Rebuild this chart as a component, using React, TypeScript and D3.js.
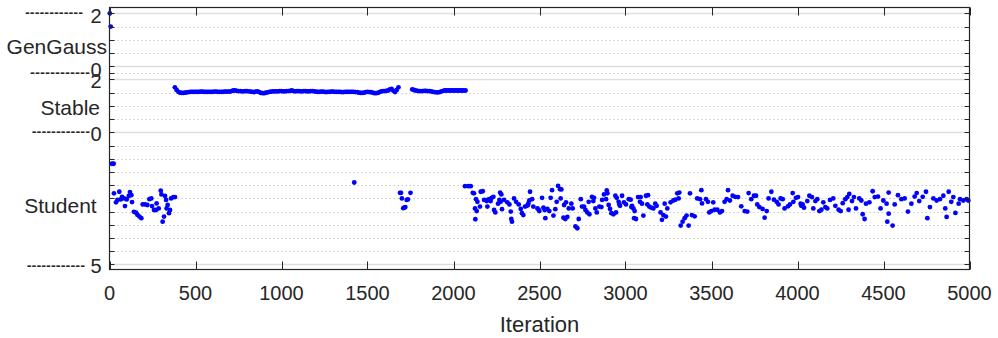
import React from "react";
import * as d3 from "d3";

// ---------- data ----------
const X_TICKS = [0, 500, 1000, 1500, 2000, 2500, 3000, 3500, 4000, 4500, 5000];

// unified y-axis tick positions (GenGauss 2..0, separator, Stable 2..0, Student 0.5..5)
const Y_TICKS = [0, 0.5, 1, 1.5, 2, 2.25, 2.5, 3, 3.5, 4, 4.5, 5, 5.5, 6, 6.5, 7, 7.5, 8, 8.5, 9, 9.5];
const Y_MAJOR = [0, 2, 2.5, 4.5, 9.5];

const GG_ITER = [2, 7];
const GG_VAL = [2.0, 1.5];

// [iteration, alpha] samples while the chain sits in the Stable model
const STABLE_SAMPLES: [number, number][] = [
  [380, 1.70], [390, 1.60], [400, 1.53], [410, 1.50], [420, 1.49], [430, 1.49], [440, 1.50], [450, 1.51],
  [460, 1.52], [470, 1.53], [480, 1.53], [490, 1.53], [500, 1.53], [510, 1.53], [520, 1.53], [530, 1.54],
  [540, 1.54], [550, 1.53], [560, 1.53], [570, 1.53], [580, 1.53], [590, 1.53], [600, 1.53], [610, 1.54],
  [620, 1.54], [630, 1.53], [640, 1.53], [650, 1.53], [660, 1.53], [670, 1.54], [680, 1.54], [690, 1.54],
  [700, 1.54], [710, 1.56], [720, 1.58], [730, 1.58], [740, 1.57], [750, 1.56], [760, 1.56], [770, 1.55],
  [780, 1.55], [790, 1.56], [800, 1.56], [810, 1.55], [820, 1.54], [830, 1.53], [840, 1.52], [850, 1.54],
  [860, 1.55], [870, 1.52], [880, 1.49], [890, 1.48], [900, 1.48], [910, 1.50], [920, 1.51], [930, 1.53],
  [940, 1.54], [950, 1.55], [960, 1.55], [970, 1.55], [980, 1.55], [990, 1.56], [1000, 1.56], [1010, 1.55],
  [1020, 1.55], [1030, 1.56], [1040, 1.56], [1050, 1.57], [1060, 1.58], [1070, 1.56], [1080, 1.55], [1090, 1.56],
  [1100, 1.56], [1110, 1.55], [1120, 1.55], [1130, 1.56], [1140, 1.56], [1150, 1.55], [1160, 1.55], [1170, 1.56],
  [1180, 1.56], [1190, 1.55], [1200, 1.54], [1210, 1.53], [1220, 1.53], [1230, 1.54], [1240, 1.54], [1250, 1.53],
  [1260, 1.52], [1270, 1.53], [1280, 1.53], [1290, 1.54], [1300, 1.54], [1310, 1.53], [1320, 1.53], [1330, 1.53],
  [1340, 1.53], [1350, 1.52], [1360, 1.52], [1370, 1.53], [1380, 1.53], [1390, 1.53], [1400, 1.53], [1410, 1.53],
  [1420, 1.53], [1430, 1.52], [1440, 1.52], [1450, 1.50], [1460, 1.49], [1470, 1.49], [1480, 1.50], [1490, 1.52],
  [1500, 1.53], [1510, 1.52], [1520, 1.52], [1530, 1.50], [1540, 1.48], [1550, 1.48], [1560, 1.49], [1570, 1.52],
  [1580, 1.55], [1590, 1.56], [1600, 1.56], [1610, 1.57], [1620, 1.58], [1630, 1.62], [1640, 1.64], [1650, 1.57],
  [1660, 1.52], [1670, 1.60], [1680, 1.70],
  [1760, 1.62], [1770, 1.60], [1780, 1.58], [1790, 1.57], [1800, 1.56], [1810, 1.56], [1820, 1.56], [1830, 1.57],
  [1840, 1.57], [1850, 1.56], [1860, 1.56], [1870, 1.55], [1880, 1.53], [1890, 1.52], [1900, 1.51], [1910, 1.51],
  [1920, 1.52], [1930, 1.55], [1940, 1.57], [1950, 1.58], [1960, 1.58], [1970, 1.58], [1980, 1.58], [1990, 1.58],
  [2000, 1.58], [2010, 1.58], [2020, 1.58], [2030, 1.58], [2040, 1.58], [2050, 1.58], [2060, 1.58], [2070, 1.58],
];

const STUDENT_ITER = [
  14, 24, 26, 38, 46, 57, 65, 73, 84, 90, 100, 112, 119, 127, 131, 142, 154, 162, 174, 185,
  193, 206, 220, 232, 243, 247, 259, 270, 274, 286, 298, 302, 309, 317, 323, 329, 332, 338, 346, 352,
  358, 371, 381,
  1423,
  1689, 1695, 1700, 1708, 1714, 1720, 1728, 1735, 1750,
  2067, 2086, 2100, 2112, 2119, 2158, 2170, 2131, 2139, 2125, 2135, 2127, 2154, 2178, 2193, 2209, 2222, 2232, 2197, 2236,
  2243, 2271, 2278, 2267, 2274, 2259, 2294, 2282, 2313, 2325, 2333, 2336, 2340, 2352, 2364, 2379, 2391, 2398, 2406, 2416,
  2426, 2435, 2441, 2445, 2457, 2464, 2488, 2499, 2515, 2523, 2530, 2534, 2546, 2557, 2565, 2573, 2581, 2592, 2600, 2608,
  2619, 2627, 2623, 2639, 2650, 2662, 2643, 2654, 2670, 2685, 2693, 2709, 2720, 2728, 2740, 2747, 2759, 2767, 2778, 2790,
  2786, 2805, 2817, 2813, 2825, 2833, 2848, 2860, 2864, 2875, 2891, 2895, 2887, 2902, 2910, 2918, 2930, 2941, 2949, 2945,
  2960, 2968, 2980, 2991, 3003, 3019, 3030, 3034, 3046, 3050,
  3038, 3053, 3061, 3073, 3088, 3084, 3096, 3104, 3119, 3131, 3127, 3138, 3150, 3162, 3173, 3181, 3204, 3212, 3220, 3228,
  3235, 3243, 3262, 3278, 3290, 3301, 3313, 3309, 3321, 3332, 3344, 3355, 3367, 3375, 3386, 3402, 3417, 3433, 3441, 3445,
  3468, 3479, 3487, 3499, 3510, 3518, 3534, 3549, 3561, 3576, 3588, 3596, 3607, 3623, 3638, 3654, 3673, 3693, 3708, 3716,
  3731, 3747, 3759, 3766, 3778, 3797, 3809, 3821, 3832, 3848, 3863, 3879, 3890, 3902, 3914, 3925, 3945, 3956, 3972, 3976,
  3991, 4003, 4018, 4030,
  4022, 4038, 4057, 4069, 4084, 4092, 4104, 4115, 4127, 4139, 4150, 4162, 4173, 4189, 4208, 4220, 4239, 4251, 4263, 4278,
  4290, 4301, 4297, 4317, 4328, 4340, 4359, 4371, 4379, 4390, 4398, 4418, 4437, 4449, 4468, 4483, 4499, 4518, 4530, 4530,
  4522, 4553, 4565, 4584, 4604, 4623, 4642, 4662, 4681, 4693, 4708, 4728, 4747, 4755, 4770, 4790, 4809, 4828, 4848, 4859,
  4867, 4879, 4894, 4906, 4918, 4937, 4945, 4964, 4983, 4993,
  2201, 2216, 2433, 2495, 2964,
];
const STUDENT_VAL = [
  1.19, 1.19, 2.31, 2.65, 2.56, 2.25, 2.54, 2.44, 2.50, 2.79, 2.54, 2.41, 2.26, 2.38, 2.64, 3.01, 3.04, 3.12, 3.19, 3.25,
  2.73, 2.73, 2.75, 2.53, 2.50, 2.79, 2.94, 2.94, 2.69, 2.88, 2.21, 2.35, 3.38, 3.19, 2.41, 2.56, 2.88, 2.75, 3.06, 2.94,
  2.50, 2.45, 2.45,
  1.90,
  2.29, 2.29, 2.50, 2.87, 2.85, 2.83, 2.56, 2.54, 2.29,
  2.04, 2.04, 2.04, 2.29, 2.31, 2.25, 2.23, 2.53, 2.63, 2.88, 2.98, 3.29, 2.81, 2.56, 2.60, 2.53, 2.48, 2.44, 2.81, 2.94,
  3.03, 2.28, 2.35, 2.56, 2.63, 2.70, 2.56, 2.91, 2.65, 2.73, 3.00, 3.28, 3.38, 2.50, 2.63, 2.73, 2.90, 3.06, 3.13, 2.81,
  2.78, 2.69, 2.58, 2.25, 2.53, 2.81, 2.88, 2.98, 2.48, 2.85, 2.94, 3.25, 2.90, 2.98, 2.48, 2.19, 3.15, 2.91, 2.63, 2.03,
  2.15, 2.16, 2.50, 3.23, 3.28, 3.20, 2.75, 2.65, 2.88, 2.70, 2.88, 3.56, 3.63, 3.28, 2.53, 2.81, 2.81, 2.94, 3.03, 3.10,
  2.63, 2.44, 2.48, 2.60, 2.88, 3.03, 2.81, 2.83, 2.56, 2.35, 2.20, 2.31, 2.53, 2.75, 2.90, 3.06, 3.10, 2.40, 2.48, 3.03,
  2.63, 2.78, 2.40, 2.65, 2.73, 2.53, 2.55, 2.83, 2.88, 3.25,
  2.78, 2.98, 3.28, 2.45, 2.45, 2.63, 2.70, 3.15, 2.40, 2.38, 2.73, 2.81, 2.85, 2.88, 2.70, 2.78, 3.03, 3.31, 3.13, 2.70,
  3.19, 2.88, 2.65, 2.58, 2.55, 2.31, 2.28, 2.50, 3.53, 3.38, 3.25, 3.15, 3.53, 2.31, 3.13, 3.18, 2.50, 2.53, 2.19, 2.69,
  2.53, 2.63, 3.03, 2.98, 2.65, 2.93, 2.93, 3.03, 2.98, 2.63, 2.53, 2.19, 2.58, 2.40, 2.44, 2.45, 2.80, 2.98, 3.00, 2.30,
  2.53, 2.40, 2.40, 2.73, 2.83, 2.90, 3.23, 2.98, 2.50, 2.25, 2.55, 2.63, 2.73, 2.50, 2.53, 2.88, 2.80, 2.73, 2.30, 2.63,
  2.48, 2.45, 2.70, 2.73,
  2.78, 2.85, 2.60, 2.40, 2.45, 2.88, 2.60, 2.53, 2.98, 2.93, 2.65, 2.83, 2.88, 2.56, 2.50, 2.78, 2.93, 2.98, 2.68, 2.53,
  2.45, 2.33, 2.93, 2.60, 2.45, 2.88, 2.50, 2.58, 3.10, 3.28, 2.70, 2.65, 2.23, 2.45, 2.43, 2.88, 2.58, 2.70, 2.28, 3.08,
  3.38, 3.53, 2.73, 2.38, 2.53, 2.50, 3.00, 2.70, 2.43, 2.30, 2.60, 2.44, 2.25, 3.25, 2.83, 2.50, 2.58, 2.53, 2.40, 2.88,
  3.20, 2.25, 2.63, 2.45, 3.05, 2.70, 2.53, 2.58, 2.53, 2.58,
  2.55, 2.60, 2.75, 2.93, 2.73,
];

// ---------- layout ----------
const W = 998;
const H = 338;
const PL = 109.5;
const PR = 969.5;
const PT = 7.5;
const PB = 269.5;
const FONT = "'Liberation Sans', Arial, Helvetica, sans-serif";
const AX = "#262626";
const BLUE = "#0000ff";
const R = 2.4;

// map each model's parameter onto the unified axis
const ggU = (v: number) => 2 - v;
const stableU = (v: number) => 4.5 - v;
const studentU = (v: number) => 4.5 + v;

export default function App() {
  const x = d3.scaleLinear().domain([0, 5000]).range([PL, PR]);
  const y = d3.scaleLinear().domain([-0.22, 9.69]).range([PT, PB]);

  const pts: { i: number; u: number }[] = [];
  GG_ITER.forEach((it, k) => pts.push({ i: it, u: ggU(GG_VAL[k]) }));
  STABLE_SAMPLES.forEach(([it, v]) => pts.push({ i: it, u: stableU(v) }));
  STUDENT_ITER.forEach((it, k) => pts.push({ i: it, u: studentU(STUDENT_VAL[k]) }));

  const dash = "------------";
  const fs = 20;

  return (
    <svg
      width={W}
      height={H}
      viewBox={`0 0 ${W} ${H}`}
      style={{ position: "absolute", left: 0, top: 0, background: "#fff" }}
      fontFamily={FONT}
    >
      <rect x={0} y={0} width={W} height={H} fill="#fff" />
      {/* grid */}
      {Y_TICKS.map((t) => {
        const major = Y_MAJOR.includes(t);
        return (
          <line
            key={"g" + t}
            x1={PL}
            x2={PR}
            y1={Math.round(y(t)) + 0.5}
            y2={Math.round(y(t)) + 0.5}
            stroke={major ? "#dedede" : "#c4c4c4"}
            strokeWidth={major ? 1.3 : 1}
            strokeDasharray={major ? undefined : "1.3 2.7"}
          />
        );
      })}
      {/* data */}
      {pts.map((p, k) => (
        <circle key={"p" + k} cx={x(p.i)} cy={y(p.u)} r={R} fill={BLUE} />
      ))}
      {/* y ticks left/right */}
      {Y_TICKS.map((t) => {
        const yy = Math.round(y(t)) + 0.5;
        return (
          <g key={"yt" + t}>
            <line x1={PL} x2={PL + 5} y1={yy} y2={yy} stroke={AX} strokeWidth={1} />
            <line x1={PR - 5} x2={PR} y1={yy} y2={yy} stroke={AX} strokeWidth={1} />
          </g>
        );
      })}
      {/* x ticks top/bottom */}
      {X_TICKS.map((t) => {
        const xx = Math.round(x(t)) + 0.5;
        return (
          <g key={"xt" + t}>
            <line x1={xx} x2={xx} y1={PB} y2={PB - 8} stroke={AX} strokeWidth={1} />
            <line x1={xx} x2={xx} y1={PT} y2={PT + 8} stroke={AX} strokeWidth={1} />
            <text x={x(t)} y={300} textAnchor="middle" fontSize={fs} fill={AX}>
              {t}
            </text>
          </g>
        );
      })}
      {/* box */}
      <rect x={PL} y={PT} width={PR - PL} height={PB - PT} fill="none" stroke={AX} strokeWidth={1.2} />

      {/* y labels */}
      <g fontSize={fs} fill={AX}>
        <text x={25} y={y(0) + 5.7} textLength={58} lengthAdjust="spacingAndGlyphs">{dash}</text>
        <text x={101.5} y={y(0) + 10} textAnchor="end">2</text>
        <text x={107} y={54} textAnchor="end" fontSize={21}>GenGauss</text>
        <text x={101.7} y={y(2) + 11} textAnchor="end">0</text>
        <text x={30} y={74 + 5.4} textLength={60} lengthAdjust="spacingAndGlyphs">{dash}</text>
        <text x={101.5} y={y(2.5) + 8.7} textAnchor="end">2</text>
        <text x={100} y={115} textAnchor="end" fontSize={21}>Stable</text>
        <text x={31.7} y={y(4.5) + 5.8} textLength={58.3} lengthAdjust="spacingAndGlyphs">{dash}</text>
        <text x={101.7} y={y(4.5) + 8.7} textAnchor="end">0</text>
        <text x={96.7} y={212.5} textAnchor="end" fontSize={21}>Student</text>
        <text x={26.7} y={y(9.5) + 7.8} textLength={58.3} lengthAdjust="spacingAndGlyphs">{dash}</text>
        <text x={101.5} y={y(9.5) + 8.7} textAnchor="end">5</text>
      </g>
      <text x={(PL + PR) / 2} y={332} textAnchor="middle" fontSize={22} fill={AX}>
        Iteration
      </text>
    </svg>
  );
}
